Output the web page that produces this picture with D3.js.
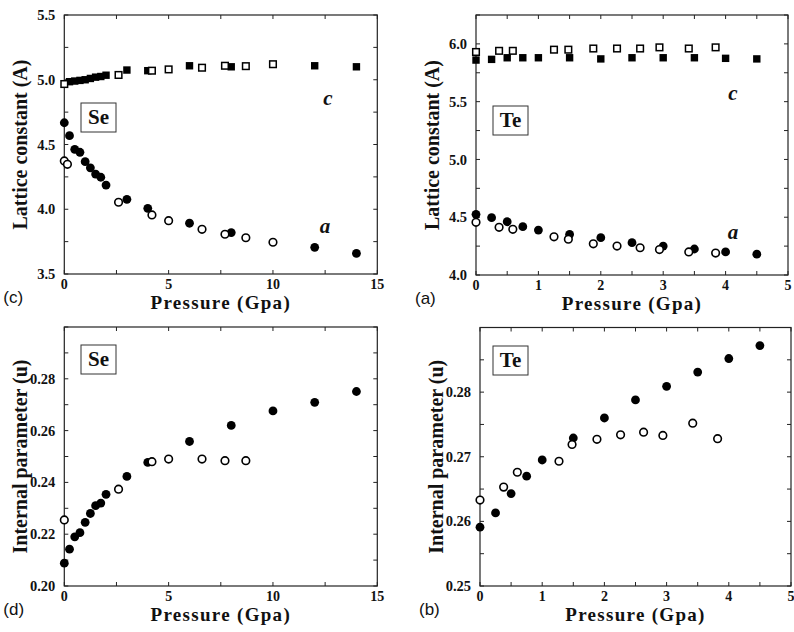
<!DOCTYPE html>
<html>
<head>
<meta charset="utf-8">
<script src="https://cdnjs.cloudflare.com/ajax/libs/d3/7.8.5/d3.min.js"></script>
<style>
  body { margin: 0; background: #fff; }
  text { font-family: "Liberation Serif", "Times New Roman", serif; font-weight: bold; fill: #111; }
  .panelLetter { font-family: "Liberation Sans", Arial, sans-serif; font-weight: normal; }
</style>
</head>
<body>
<div id="chart"></div>
<script>
// ---- Se lattice constants (panel c) ----
var seFilledP_a = [0, 0.25, 0.5, 0.75, 1.0, 1.25, 1.5, 1.75, 2.0, 3, 4, 6, 8, 12, 14];
var seFilledA   = [4.668, 4.568, 4.463, 4.44, 4.367, 4.32, 4.272, 4.247, 4.187, 4.077, 4.007, 3.892, 3.82, 3.706, 3.66];
var seOpenP_a   = [0, 0.15, 2.6, 4.2, 5.0, 6.6, 7.7, 8.7, 10];
var seOpenA     = [4.373, 4.347, 4.054, 3.956, 3.912, 3.845, 3.807, 3.78, 3.745];
var seFilledP_c = [0.25, 0.5, 0.75, 1.0, 1.25, 1.5, 1.75, 2.0, 3, 4, 6, 8, 12, 14];
var seFilledC   = [4.985, 4.99, 4.995, 5.0, 5.01, 5.02, 5.025, 5.035, 5.075, 5.07, 5.108, 5.10, 5.108, 5.10];
var seOpenP_c   = [0, 2.6, 4.2, 5.0, 6.6, 7.7, 8.7, 10];
var seOpenC     = [4.967, 5.037, 5.07, 5.08, 5.093, 5.108, 5.105, 5.12];

// ---- Te lattice constants (panel a) ----
var teFilledP   = [0, 0.25, 0.5, 0.75, 1, 1.5, 2, 2.5, 3, 3.5, 4, 4.5];
var teFilledA   = [4.525, 4.496, 4.461, 4.418, 4.389, 4.352, 4.323, 4.28, 4.25, 4.225, 4.20, 4.18];
var teFilledC   = [5.86, 5.866, 5.88, 5.88, 5.88, 5.88, 5.87, 5.88, 5.88, 5.88, 5.875, 5.87];
var teOpenP     = [0, 0.37, 0.59, 1.25, 1.48, 1.88, 2.26, 2.63, 2.94, 3.41, 3.84];
var teOpenA     = [4.456, 4.413, 4.395, 4.33, 4.31, 4.27, 4.25, 4.236, 4.22, 4.20, 4.19];
var teOpenC     = [5.93, 5.94, 5.94, 5.95, 5.95, 5.96, 5.96, 5.96, 5.97, 5.96, 5.97];

// ---- Se internal parameter (panel d) ----
var seUFilledP  = [0, 0.25, 0.5, 0.75, 1.0, 1.25, 1.5, 1.75, 2.0, 3, 4, 6, 8, 10, 12, 14];
var seUFilled   = [0.2088, 0.2142, 0.219, 0.2206, 0.2246, 0.228, 0.231, 0.232, 0.2354, 0.2423, 0.2477, 0.2558, 0.262, 0.2676, 0.2709, 0.2751];
var seUOpenP    = [0, 2.6, 4.2, 5.0, 6.6, 7.7, 8.7];
var seUOpen     = [0.2255, 0.2374, 0.248, 0.249, 0.249, 0.2484, 0.2484];

// ---- Te internal parameter (panel b) ----
var teUFilledP  = [0, 0.25, 0.5, 0.75, 1, 1.5, 2, 2.5, 3, 3.5, 4, 4.5];
var teUFilled   = [0.2591, 0.2613, 0.2643, 0.2670, 0.2695, 0.2729, 0.2760, 0.2788, 0.2809, 0.2831, 0.2852, 0.2872];
var teUOpenP    = [0, 0.38, 0.6, 1.27, 1.48, 1.88, 2.26, 2.63, 2.94, 3.42, 3.82];
var teUOpen     = [0.2633, 0.2653, 0.2676, 0.2693, 0.2719, 0.2727, 0.2734, 0.2738, 0.2733, 0.2752, 0.2728];

var svg = d3.select("#chart").append("svg")
    .attr("width", 794)
    .attr("height", 632);

function zip(xs, ys) { return xs.map(function(x, i) { return [x, ys[i]]; }); }

// one panel of the figure
function drawPanel(p) {
    var x = d3.scaleLinear().domain(p.xDomain).range([p.left, p.right]);
    var y = d3.scaleLinear().domain(p.yDomain).range([p.bottom, p.top]);
    var g = svg.append("g");

    // inward ticks on all four sides
    var xt = d3.range(p.xDomain[0], p.xDomain[1] + 1e-9, p.xMinor);
    var yt = d3.range(p.yDomain[0], p.yDomain[1] + 1e-9, p.yMinor);
    var tl = 4;
    g.selectAll(".xtb").data(xt).enter().append("line")
        .attr("x1", x).attr("x2", x).attr("y1", p.bottom).attr("y2", p.bottom - tl)
        .attr("stroke", "#222");
    g.selectAll(".xtt").data(xt).enter().append("line")
        .attr("x1", x).attr("x2", x).attr("y1", p.top).attr("y2", p.top + tl)
        .attr("stroke", "#222");
    g.selectAll(".ytl").data(yt).enter().append("line")
        .attr("y1", y).attr("y2", y).attr("x1", p.left).attr("x2", p.left + tl)
        .attr("stroke", "#222");
    g.selectAll(".ytr").data(yt).enter().append("line")
        .attr("y1", y).attr("y2", y).attr("x1", p.right).attr("x2", p.right - tl)
        .attr("stroke", "#222");

    g.append("rect")
        .attr("x", p.left).attr("y", p.top)
        .attr("width", p.right - p.left).attr("height", p.bottom - p.top)
        .attr("fill", "none").attr("stroke", "#222").attr("stroke-width", 1.2);

    // tick labels
    g.selectAll(".xl").data(p.xTicks).enter().append("text")
        .attr("x", x).attr("y", p.bottom + 15)
        .attr("text-anchor", "middle").attr("font-size", 14)
        .text(function(d) { return d; });
    g.selectAll(".yl").data(p.yTicks).enter().append("text")
        .attr("x", p.left - 9).attr("y", y).attr("dy", "0.35em")
        .attr("text-anchor", "end").attr("font-size", 14.5)
        .text(d3.format(p.yFormat));

    // axis titles
    g.append("text")
        .attr("x", (p.left + p.right) / 2).attr("y", p.bottom + 35)
        .attr("text-anchor", "middle").attr("font-size", 19)
        .attr("letter-spacing", 1.3)
        .text("Pressure (Gpa)");
    g.append("text")
        .attr("transform", "translate(" + (p.left - 44) + "," + ((p.top + p.bottom) / 2) + ") rotate(-90)")
        .attr("text-anchor", "middle").attr("dy", "0.35em").attr("font-size", 20)
        .text(p.yLabel);
    g.append("text").attr("class", "panelLetter")
        .attr("x", p.left - 61).attr("y", p.bottom + 29)
        .attr("font-size", 17)
        .text(p.letter);

    // element box
    g.append("rect")
        .attr("x", p.boxX).attr("y", p.boxY).attr("width", 35).attr("height", 29)
        .attr("fill", "#fff").attr("stroke", "#333").attr("stroke-width", 1);
    g.append("text")
        .attr("x", p.boxX + 17.5).attr("y", p.boxY + 21)
        .attr("text-anchor", "middle").attr("font-size", 21)
        .text(p.element);

    (p.notes || []).forEach(function(n) {
        g.append("text").attr("x", n[0]).attr("y", n[1])
            .attr("font-size", 21).attr("font-style", "italic")
            .attr("text-anchor", "middle").text(n[2]);
    });

    // markers
    p.series.forEach(function(s) {
        var pts = zip(s.xs, s.ys);
        if (s.shape === "circle") {
            g.selectAll(null).data(pts).enter().append("circle")
                .attr("cx", function(d) { return x(d[0]); })
                .attr("cy", function(d) { return y(d[1]); })
                .attr("r", s.filled ? 4.4 : 3.8)
                .attr("fill", s.filled ? "#000" : "#fff")
                .attr("stroke", "#000").attr("stroke-width", s.filled ? 0 : 1.6);
        } else {
            var w = s.filled ? 7.4 : 6.6;
            g.selectAll(null).data(pts).enter().append("rect")
                .attr("x", function(d) { return x(d[0]) - w / 2; })
                .attr("y", function(d) { return y(d[1]) - w / 2; })
                .attr("width", w).attr("height", w)
                .attr("fill", s.filled ? "#000" : "#fff")
                .attr("stroke", "#000").attr("stroke-width", s.filled ? 0 : 1.5);
        }
    });
}

drawPanel({
    left: 64.3, right: 377.3, top: 15, bottom: 274,
    xDomain: [0, 15], yDomain: [3.5, 5.5], xMinor: 2.5, yMinor: 0.25,
    xTicks: [0, 5, 10, 15], yTicks: [3.5, 4.0, 4.5, 5.0, 5.5], yFormat: ".1f",
    yLabel: "Lattice constant (A)", letter: "(c)", element: "Se", boxX: 81, boxY: 103,
    notes: [[328, 105, "c"], [325, 233, "a"]],
    series: [
        {shape: "square", filled: true,  xs: seFilledP_c, ys: seFilledC},
        {shape: "square", filled: false, xs: seOpenP_c,   ys: seOpenC},
        {shape: "circle", filled: true,  xs: seFilledP_a, ys: seFilledA},
        {shape: "circle", filled: false, xs: seOpenP_a,   ys: seOpenA}
    ]
});

drawPanel({
    left: 476, right: 788, top: 15, bottom: 275,
    xDomain: [0, 5], yDomain: [4.0, 6.25], xMinor: 0.5, yMinor: 0.25,
    xTicks: [0, 1, 2, 3, 4, 5], yTicks: [4.0, 4.5, 5.0, 5.5, 6.0], yFormat: ".1f",
    yLabel: "Lattice constant (A)", letter: "(a)", element: "Te", boxX: 493, boxY: 106,
    notes: [[733, 100, "c"], [733, 239, "a"]],
    series: [
        {shape: "square", filled: true,  xs: teFilledP, ys: teFilledC},
        {shape: "square", filled: false, xs: teOpenP,   ys: teOpenC},
        {shape: "circle", filled: true,  xs: teFilledP, ys: teFilledA},
        {shape: "circle", filled: false, xs: teOpenP,   ys: teOpenA}
    ]
});

drawPanel({
    left: 64.3, right: 377.3, top: 327, bottom: 586,
    xDomain: [0, 15], yDomain: [0.20, 0.30], xMinor: 2.5, yMinor: 0.01,
    xTicks: [0, 5, 10, 15], yTicks: [0.20, 0.22, 0.24, 0.26, 0.28], yFormat: ".2f",
    yLabel: "Internal parameter (u)", letter: "(d)", element: "Se", boxX: 81, boxY: 345,
    series: [
        {shape: "circle", filled: true,  xs: seUFilledP, ys: seUFilled},
        {shape: "circle", filled: false, xs: seUOpenP,   ys: seUOpen}
    ]
});

drawPanel({
    left: 480, right: 791, top: 327.5, bottom: 586,
    xDomain: [0, 5], yDomain: [0.25, 0.29], xMinor: 0.5, yMinor: 0.005,
    xTicks: [0, 1, 2, 3, 4, 5], yTicks: [0.25, 0.26, 0.27, 0.28], yFormat: ".2f",
    yLabel: "Internal parameter (u)", letter: "(b)", element: "Te", boxX: 493, boxY: 346,
    series: [
        {shape: "circle", filled: true,  xs: teUFilledP, ys: teUFilled},
        {shape: "circle", filled: false, xs: teUOpenP,   ys: teUOpen}
    ]
});
</script>
</body>
</html>
